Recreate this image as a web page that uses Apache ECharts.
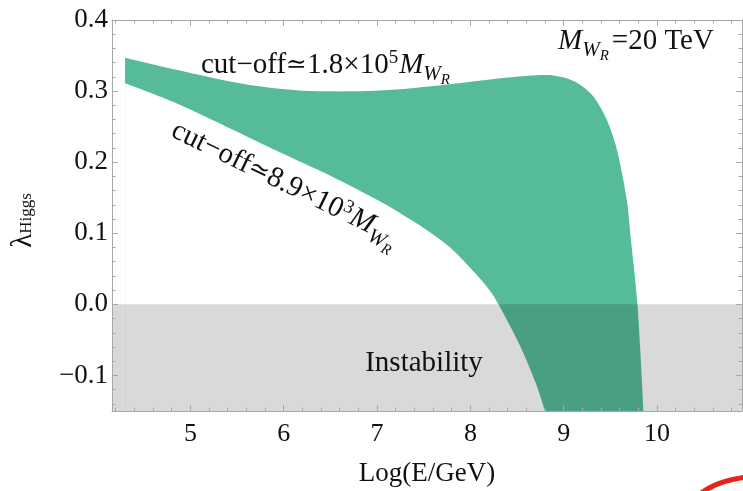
<!DOCTYPE html>
<html><head><meta charset="utf-8">
<script src="https://cdn.jsdelivr.net/npm/echarts@6.0.0/dist/echarts.min.js"></script>
<style>html,body{margin:0;padding:0;background:#fff}#c{width:743px;height:491px}</style>
</head><body><div id="c"></div>
<script>
// ---- data ----
const upperX = [4.30, 4.85, 5.57, 6.28, 6.60, 6.90, 7.25, 7.60, 7.96, 8.32, 8.67, 8.85, 8.96, 9.03, 9.175, 9.32, 9.46, 9.57, 9.675, 9.72, 9.79, 9.855];
const upperY = [0.347, 0.330, 0.310, 0.300, 0.2995, 0.300, 0.3025, 0.307, 0.3125, 0.318, 0.322, 0.3225, 0.320, 0.318, 0.309, 0.292, 0.260, 0.2175, 0.147, 0.091, 0.0, -0.15];
const lowerX = [4.30, 4.85, 5.45, 5.94, 6.50, 7.03, 7.35, 7.57, 7.80, 8.05, 8.21, 8.30, 8.53, 8.71, 8.80];
const lowerY = [0.311, 0.283, 0.246, 0.215, 0.181, 0.145, 0.120, 0.101, 0.078, 0.044, 0.019, 0.000, -0.058, -0.114, -0.15];
const instabilityX = [4.16, 10.91];
const instabilityY = [-0.15, 0.0];
const xRange = [4.16, 10.91];
const yRange = [-0.15, 0.4];
const xMajorTicks = [5, 6, 7, 8, 9, 10];
const yMajorTicks = [-0.1, 0.0, 0.1, 0.2, 0.3, 0.4];
const xMinorTicks = [];
for (let i = 21; i <= 54; i++) if (i % 5 !== 0) xMinorTicks.push(i / 5);
const yMinorTicks = [];
for (let i = -7; i <= 19; i++) if (i % 5 !== 0) yMinorTicks.push(i / 50);

const FF = '"Liberation Serif", "DejaVu Serif", "Times New Roman", serif';
const FRAME = '#a8a8a8';
const TXT = '#111';
const GREEN = '#55bb99';

function axisX(pos, ticks, len, line, labels) {
  const a = {
    type: 'value', position: pos, min: xRange[0], max: xRange[1], z: 10,
    axisLine: { show: line, onZero: false, lineStyle: { color: FRAME, width: 1 } },
    axisTick: { show: true, inside: true, length: len, customValues: ticks, lineStyle: { color: FRAME, width: 1 } },
    axisLabel: { show: false },
    splitLine: { show: false }
  };
  if (labels) {
    a.axisLabel = { show: true, customValues: xMajorTicks, margin: 10, fontSize: 26, lineHeight: 26, fontFamily: FF, color: TXT };
    a.name = 'Log(E/GeV)';
    a.nameLocation = 'middle';
    a.nameGap = 48;
    a.nameMoveOverlap = false;
    a.nameTextStyle = { fontSize: 27, lineHeight: 30, fontFamily: FF, color: TXT };
  }
  return a;
}
function axisY(pos, ticks, len, line, labels) {
  const a = {
    type: 'value', position: pos, min: yRange[0], max: yRange[1], z: 10,
    axisLine: { show: line, onZero: false, lineStyle: { color: FRAME, width: 1 } },
    axisTick: { show: true, inside: true, length: len, customValues: ticks, lineStyle: { color: FRAME, width: 1 } },
    axisLabel: { show: false },
    splitLine: { show: false }
  };
  if (labels) {
    a.axisLabel = { show: true, customValues: yMajorTicks, margin: 4, fontSize: 27, fontFamily: FF, color: TXT,
      formatter: v => (v < -1e-9 ? '\u2212' : '') + Math.abs(v).toFixed(1) };
    a.name = '{l|\u03bb}{s|Higgs}';
    a.nameLocation = 'middle';
    a.nameRotate = 90;
    a.nameGap = 71;
    a.nameMoveOverlap = false;
    a.nameTextStyle = { padding: [0, 10, 0, 0], rich: {
      l: { fontSize: 29, lineHeight: 36, fontFamily: FF, color: TXT },
      s: { fontSize: 17, lineHeight: 20, fontFamily: FF, color: TXT, verticalAlign: 'bottom', padding: [0, 0, 6, 0] }
    } };
  }
  return a;
}

const rich = {
  n:   { fontSize: 29, lineHeight: 50, fontFamily: FF, fill: TXT },
  eq:  { fontSize: 25, lineHeight: 50, fontFamily: '"DejaVu Serif", serif', fill: TXT },
  sup: { fontSize: 19, lineHeight: 36, fontFamily: FF, fill: TXT, verticalAlign: 'top', padding: [9, 1, 0, 0] },
  it:  { fontSize: 29, lineHeight: 50, fontFamily: FF, fontStyle: 'italic', fill: TXT },
  w:   { fontSize: 21, lineHeight: 28, fontFamily: FF, fontStyle: 'italic', fill: TXT, verticalAlign: 'bottom', padding: [0, 0, 5, 0] },
  r:   { fontSize: 15, lineHeight: 20, fontFamily: FF, fontStyle: 'italic', fill: TXT, verticalAlign: 'bottom', padding: [0, 3, 2, 0] }
};

const chart = echarts.init(document.getElementById('c'), null, { renderer: 'canvas' });
chart.setOption({
  animation: false,
  backgroundColor: '#fff',
  grid: { left: 112, right: 1, top: 20, bottom: 80, containLabel: false, outerBoundsMode: 'none' },
  xAxis: [
    axisX('bottom', xMajorTicks, 6, true, true),
    axisX('bottom', xMinorTicks, 3.5, false, false),
    axisX('top', xMajorTicks, 6, true, false),
    axisX('top', xMinorTicks, 3.5, false, false)
  ],
  yAxis: [
    axisY('left', yMajorTicks, 6, true, true),
    axisY('left', yMinorTicks, 3.5, false, false),
    axisY('right', yMajorTicks, 6, true, false),
    axisY('right', yMinorTicks, 3.5, false, false)
  ],
  series: [
    {
      type: 'line', name: 'upper', data: upperX.map((x, i) => [x, upperY[i]]),
      smooth: 0.3, showSymbol: false, silent: true, z: 2,
      lineStyle: { width: 0, color: GREEN },
      areaStyle: { color: GREEN, opacity: 1, origin: 'start' }
    },
    {
      type: 'line', name: 'lower', data: lowerX.map((x, i) => [x, lowerY[i]]),
      smooth: 0.3, showSymbol: false, silent: true, z: 3,
      lineStyle: { width: 0, color: '#ffffff' },
      areaStyle: { color: '#ffffff', opacity: 1, origin: 'start' }
    },
    {
      type: 'custom', name: 'Instability', silent: true, z: 4,
      data: [[instabilityX[0], instabilityY[0]]],
      renderItem: function (params, api) {
        const p1 = api.coord([instabilityX[0], instabilityY[1]]);
        const p2 = api.coord([instabilityX[1], instabilityY[0]]);
        return { type: 'rect', shape: { x: p1[0], y: p1[1], width: p2[0] - p1[0], height: p2[1] - p1[1] },
                 style: { fill: 'rgba(0,0,0,0.15)' } };
      }
    }
  ],
  graphic: { elements: [
    { type: 'text', x: 201, y: 65, z: 20, silent: true,
      style: { text: '{n|cut\u2212off}{eq|\u2243}{n|1.8\u00d710}{sup|5}{it|M}{w|W}{r|R}', rich: rich, align: 'left', verticalAlign: 'middle', fill: TXT, fontFamily: FF, fontSize: 29 } },
    { type: 'text', x: 173, y: 129, rotation: -26 * Math.PI / 180, z: 20, silent: true,
      style: { text: '{n|cut\u2212off}{eq|\u2243}{n|8.9\u00d710}{sup|3}{it|M}{w|W}{r|R}', rich: rich, align: 'left', verticalAlign: 'middle', fill: TXT, fontFamily: FF, fontSize: 29 } },
    { type: 'text', x: 558, y: 41, z: 20, silent: true,
      style: { text: '{it|M}{w|W}{r|R}{n|=20 TeV}', rich: rich, align: 'left', verticalAlign: 'middle', fill: TXT, fontFamily: FF, fontSize: 29 } },
    { type: 'text', x: 424, y: 363, z: 20, silent: true,
      style: { text: 'Instability', align: 'center', verticalAlign: 'middle', fill: TXT, fontFamily: FF, fontSize: 29 } },
    { type: 'bezierCurve', z: 20, silent: true,
      shape: { x1: 700, y1: 494, cpx1: 716, cpy1: 481, x2: 747, y2: 477 },
      style: { stroke: '#e8231b', lineWidth: 5, fill: null } }
  ] }
});
</script></body></html>
